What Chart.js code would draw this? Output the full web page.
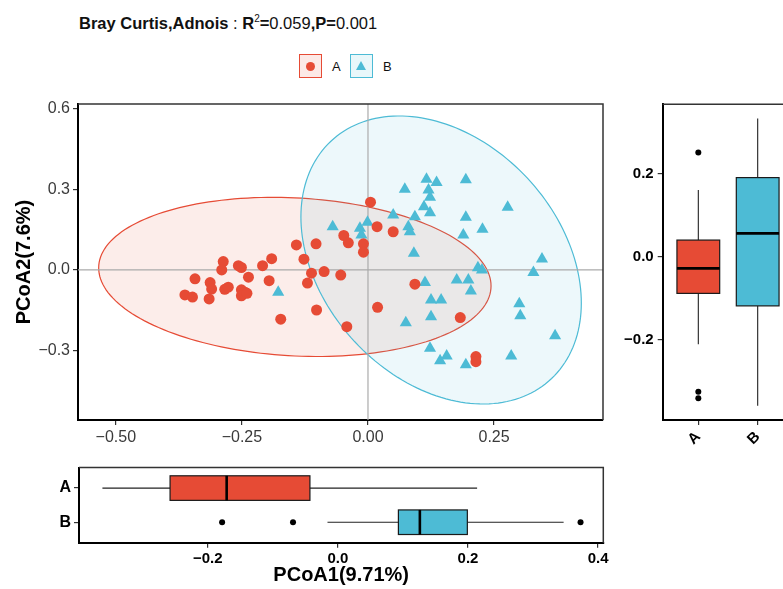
<!DOCTYPE html>
<html>
<head>
<meta charset="utf-8">
<script src="https://cdn.jsdelivr.net/npm/chart.js@4.4.1/dist/chart.umd.min.js"></script>
<style>
  html, body { margin: 0; padding: 0; background: #fff; width: 783px; height: 589px; overflow: hidden; }
  body { position: relative; font-family: 'Liberation Sans', Arial, Helvetica, sans-serif; color: #111; }
  .title { position: absolute; left: 79px; top: 15px; font-size: 16.5px; line-height: 16.5px; white-space: nowrap; }
  .title sup { font-size: 10px; line-height: 0; vertical-align: 7px; }
  .lg-box { position: absolute; top: 54px; width: 21px; height: 22px; border: 1.2px solid; }
  .lg-a { left: 299px; border-color: #E64B35; background: rgba(230, 75, 53, 0.12); }
  .lg-b { left: 350px; border-color: #4DBBD5; background: rgba(77, 187, 213, 0.12); }
  .dot { position: absolute; left: 6px; top: 6.5px; width: 9px; height: 9px; border-radius: 50%; background: #E64B35; }
  .tri { position: absolute; left: 5px; top: 6px; width: 0; height: 0; border-left: 5.5px solid transparent; border-right: 5.5px solid transparent; border-bottom: 9.5px solid #4DBBD5; }
  .lg-text { position: absolute; top: 60px; font-size: 13px; line-height: 13px; color: #111; }
  .panel { position: absolute; }
</style>
</head>
<body>
<div class="title"><b>Bray Curtis,Adnois</b> : <b>R</b><sup>2</sup><b>=</b>0.059<b>,P=</b>0.001</div>
<div class="lg-box lg-a"><div class="dot"></div></div>
<div class="lg-text" style="left:332px">A</div>
<div class="lg-box lg-b"><div class="tri"></div></div>
<div class="lg-text" style="left:383px">B</div>

<div class="panel" style="left:0px; top:90px;"><canvas id="pcoa" width="620" height="360"></canvas></div>
<div class="panel" style="left:600px; top:90px;"><canvas id="boxPc2" width="200" height="370"></canvas></div>
<div class="panel" style="left:0px; top:455px;"><canvas id="boxPc1" width="620" height="134"></canvas></div>

<script>
Chart.defaults.font.family = "'Liberation Sans', Arial, Helvetica, sans-serif";
Chart.defaults.color = '#000';

// --- data ---
const groups = ['A', 'B'];

// PCoA scores, group A (circles)
const groupA_x = [-0.142, -0.103, -0.287, -0.290, -0.257, -0.251, -0.209, -0.191, -0.127, -0.112,
  -0.343, -0.313, -0.237, -0.196, -0.120, -0.363, -0.348, -0.315, -0.310, -0.284,
  -0.277, -0.251, -0.244, -0.251, -0.240, -0.173, -0.102, 0.005, 0.018, 0.050,
  -0.048, -0.039, -0.009, -0.009, -0.087, -0.054, 0.093, 0.019, -0.042, 0.183,
  0.214, 0.214];
const groupA_y = [0.093, 0.097, 0.031, 0.000, 0.016, 0.009, 0.016, 0.042, 0.040, -0.012,
  -0.033, -0.047, -0.027, -0.040, -0.049, -0.093, -0.101, -0.108, -0.071, -0.072,
  -0.064, -0.074, -0.083, -0.096, -0.087, -0.183, -0.149, 0.252, 0.161, 0.142,
  0.128, 0.101, 0.097, 0.066, -0.006, -0.019, -0.053, -0.139, -0.211, -0.177,
  -0.322, -0.341];

// PCoA scores, group B (triangles)
const groupB_x = [0.116, 0.136, 0.194, 0.073, 0.120, 0.123, 0.111, 0.123, 0.277, 0.050,
  0.093, 0.194, -0.070, -0.001, -0.016, -0.013, 0.080, 0.083, 0.189, 0.227,
  0.091, 0.345, 0.226, 0.218, 0.328, 0.113, 0.176, 0.199, 0.204, 0.125,
  0.145, 0.300, 0.125, 0.075, 0.302, 0.371, 0.123, 0.156, 0.143, 0.194,
  0.284, -0.178];
const groupB_y = [0.337, 0.325, 0.335, 0.300, 0.297, 0.270, 0.235, 0.213, 0.233, 0.204,
  0.198, 0.196, 0.161, 0.177, 0.155, 0.130, 0.161, 0.142, 0.130, 0.151,
  0.062, 0.041, 0.000, 0.008, -0.010, -0.047, -0.037, -0.037, -0.078, -0.112,
  -0.112, -0.126, -0.174, -0.196, -0.170, -0.245, -0.291, -0.320, -0.338, -0.353,
  -0.320, -0.083];

// confidence ellipses: centre and two conjugate half-axes, in data units
const ellipseCenterA = [-0.145, -0.026];
const ellipseUA = [0.389, -0.0335];
const ellipseVA = [0, 0.294];
const ellipseCenterB = [0.145, 0.037];
const ellipseUB = [0.278, -0.160];
const ellipseVB = [0, 0.511];

// box plot of PCoA2 (right)
const pc2Min = [-0.210, -0.358];
const pc2Q1 = [-0.088, -0.118];
const pc2Median = [-0.028, 0.056];
const pc2Q3 = [0.040, 0.190];
const pc2Max = [0.160, 0.332];
const pc2OutlierGroup = [1, 1, 1];
const pc2OutlierValue = [0.250, -0.324, -0.340];

// box plot of PCoA1 (bottom)
const pc1Min = [-0.362, -0.016];
const pc1Q1 = [-0.258, 0.093];
const pc1Median = [-0.171, 0.126];
const pc1Q3 = [-0.043, 0.199];
const pc1Max = [0.214, 0.347];
const pc1OutlierGroup = [2, 2, 2];
const pc1OutlierValue = [-0.178, -0.069, 0.373];

// tick values and labels
const mainXTicks = [-0.5, -0.25, 0, 0.25];
const mainXTickLabels = ['\u22120.50', '\u22120.25', '0.00', '0.25'];
const mainYTicks = [-0.3, 0, 0.3, 0.6];
const mainYTickLabels = ['\u22120.3', '0.0', '0.3', '0.6'];
const pc2Ticks = [-0.2, 0, 0.2];
const pc2TickLabels = ['\u22120.2', '0.0', '0.2'];
const pc1Ticks = [-0.2, 0, 0.2, 0.4];
const pc1TickLabels = ['\u22120.2', '0.0', '0.2', '0.4'];
const groupTicks = [1, 2];

// --- styles ---
const RED = '#E64B35';
const TEAL = '#4DBBD5';
const boxHalf = 0.36;

function fixedTicks(values) {
  return function (scale) { scale.ticks = values.map(v => ({ value: v })); };
}

const ellipsePlugin = {
  id: 'ellipses',
  beforeDatasetsDraw(chart) {
    const { ctx, chartArea: a, scales: { x, y } } = chart;
    const shapes = [
      { c: ellipseCenterA, u: ellipseUA, v: ellipseVA, fill: 'rgba(230,75,53,0.1)', stroke: RED },
      { c: ellipseCenterB, u: ellipseUB, v: ellipseVB, fill: 'rgba(77,187,213,0.1)', stroke: TEAL }
    ];
    ctx.save();
    ctx.beginPath();
    ctx.rect(a.left, a.top, a.right - a.left, a.bottom - a.top);
    ctx.clip();
    shapes.forEach(e => {
      ctx.beginPath();
      for (let k = 0; k <= 180; k++) {
        const t = k / 180 * Math.PI * 2;
        const px = x.getPixelForValue(e.c[0] + e.u[0] * Math.cos(t) + e.v[0] * Math.sin(t));
        const py = y.getPixelForValue(e.c[1] + e.u[1] * Math.cos(t) + e.v[1] * Math.sin(t));
        if (k === 0) ctx.moveTo(px, py); else ctx.lineTo(px, py);
      }
      ctx.closePath();
      ctx.fillStyle = e.fill;
      ctx.fill();
      ctx.strokeStyle = e.stroke;
      ctx.lineWidth = 1.2;
      ctx.stroke();
    });
    // zero lines
    ctx.strokeStyle = '#ababab';
    ctx.lineWidth = 1.2;
    ctx.beginPath();
    const x0 = x.getPixelForValue(0), y0 = y.getPixelForValue(0);
    ctx.moveTo(x0, a.top); ctx.lineTo(x0, a.bottom);
    ctx.moveTo(a.left, y0); ctx.lineTo(a.right, y0);
    ctx.stroke();
    ctx.restore();
  }
};

const framePlugin = {
  id: 'frame',
  afterDatasetsDraw(chart) {
    const { ctx, chartArea: a } = chart;
    ctx.save();
    ctx.strokeStyle = '#333';
    ctx.lineWidth = 1.5;
    ctx.beginPath();
    ctx.moveTo(a.left, a.top);
    ctx.lineTo(a.right, a.top);
    ctx.lineTo(a.right, a.bottom);
    ctx.stroke();
    ctx.restore();
  }
};

const boxPlugin = {
  id: 'boxes',
  beforeDatasetsDraw(chart, args, opts) {
    const { ctx } = chart;
    const hor = opts.horizontal;
    const val = chart.scales[hor ? 'x' : 'y'];
    const cat = chart.scales[hor ? 'y' : 'x'];
    const s = opts.stats;
    const fills = [RED, TEAL];
    ctx.save();
    s.q1.forEach((q1, i) => {
      const c = cat.getPixelForValue(i + 1);
      const h = Math.abs(cat.getPixelForValue(i + 1 + boxHalf) - c);
      const lo = val.getPixelForValue(s.min[i]);
      const b1 = val.getPixelForValue(q1);
      const md = val.getPixelForValue(s.median[i]);
      const b3 = val.getPixelForValue(s.q3[i]);
      const hi = val.getPixelForValue(s.max[i]);
      const seg = (p1, p2, w) => {
        ctx.lineWidth = w;
        ctx.beginPath();
        if (hor) { ctx.moveTo(p1, c); ctx.lineTo(p2, c); }
        else { ctx.moveTo(c, p1); ctx.lineTo(c, p2); }
        ctx.stroke();
      };
      ctx.strokeStyle = '#222';
      seg(lo, b1, 1.1);
      seg(b3, hi, 1.1);
      ctx.fillStyle = fills[i];
      ctx.strokeStyle = '#1a1a1a';
      ctx.lineWidth = 1.2;
      if (hor) {
        ctx.fillRect(b1, c - h, b3 - b1, 2 * h);
        ctx.strokeRect(b1, c - h, b3 - b1, 2 * h);
      } else {
        ctx.fillRect(c - h, b3, 2 * h, b1 - b3);
        ctx.strokeRect(c - h, b3, 2 * h, b1 - b3);
      }
      ctx.strokeStyle = '#000';
      ctx.lineWidth = 2.6;
      ctx.beginPath();
      if (hor) { ctx.moveTo(md, c - h); ctx.lineTo(md, c + h); }
      else { ctx.moveTo(c - h, md); ctx.lineTo(c + h, md); }
      ctx.stroke();
    });
    ctx.restore();
  }
};

const tickGrid = { drawOnChartArea: false, tickLength: 5, color: '#333', lineWidth: 1.2 };
const axisBorder = { display: true, color: '#000', width: 2 };

// main PCoA scatter
new Chart(document.getElementById('pcoa'), {
  type: 'scatter',
  data: {
    datasets: [
      {
        label: groups[0],
        data: groupA_x.map((x, i) => ({ x: x, y: groupA_y[i] })),
        pointStyle: 'circle', pointRadius: 5.5, backgroundColor: RED, borderWidth: 0
      },
      {
        label: groups[1],
        data: groupB_x.map((x, i) => ({ x: x, y: groupB_y[i] })),
        pointStyle: 'triangle', pointRadius: 7, backgroundColor: TEAL, borderWidth: 0
      }
    ]
  },
  options: {
    responsive: false, animation: false, devicePixelRatio: 1,
    layout: { padding: { left: 0, top: 14, right: 17, bottom: 0 } },
    plugins: { legend: { display: false }, tooltip: { enabled: false } },
    scales: {
      x: {
        type: 'linear', min: -0.575, max: 0.466,
        afterBuildTicks: fixedTicks(mainXTicks),
        afterFit: s => { s.height = 30; },
        grid: tickGrid, border: axisBorder,
        ticks: { callback: (v, i) => mainXTickLabels[i], color: '#3a3a3a', font: { size: 16 }, padding: 3, maxRotation: 0, autoSkip: false }
      },
      y: {
        type: 'linear', min: -0.558, max: 0.617,
        afterBuildTicks: fixedTicks(mainYTicks),
        afterFit: s => { s.width = 78; },
        grid: tickGrid, border: axisBorder,
        title: { display: true, text: 'PCoA2(7.6%)', color: '#000', font: { size: 20, weight: 'bold' }, padding: { top: 12, bottom: 0 } },
        ticks: { callback: (v, i) => mainYTickLabels[i], color: '#3a3a3a', font: { size: 16 }, padding: 3, autoSkip: false }
      }
    }
  },
  plugins: [ellipsePlugin, framePlugin]
});

// right box plot (PCoA2 by group)
new Chart(document.getElementById('boxPc2'), {
  type: 'scatter',
  data: {
    datasets: [{
      label: 'outliers',
      data: pc2OutlierGroup.map((g, i) => ({ x: g, y: pc2OutlierValue[i] })),
      pointRadius: 3, backgroundColor: '#000', borderWidth: 0
    }]
  },
  options: {
    responsive: false, animation: false, devicePixelRatio: 1,
    layout: { padding: { left: 0, top: 14.3, right: 6.7, bottom: 0 } },
    plugins: {
      legend: { display: false }, tooltip: { enabled: false },
      boxes: { horizontal: false, stats: { min: pc2Min, q1: pc2Q1, median: pc2Median, q3: pc2Q3, max: pc2Max } }
    },
    scales: {
      x: {
        type: 'linear', min: 0.4, max: 2.6,
        afterBuildTicks: fixedTicks(groupTicks),
        afterFit: s => { s.height = 40; },
        grid: tickGrid, border: axisBorder,
        ticks: { callback: (v, i) => groups[i], font: { size: 15, weight: 'bold' }, padding: 3, minRotation: 45, maxRotation: 45, autoSkip: false }
      },
      y: {
        type: 'linear', min: -0.392, max: 0.366,
        afterBuildTicks: fixedTicks(pc2Ticks),
        afterFit: s => { s.width = 62.7; },
        grid: tickGrid, border: axisBorder,
        ticks: { callback: (v, i) => pc2TickLabels[i], font: { size: 15, weight: 'bold' }, padding: 4, autoSkip: false }
      }
    }
  },
  plugins: [boxPlugin, framePlugin]
});

// bottom box plot (PCoA1 by group)
new Chart(document.getElementById('boxPc1'), {
  type: 'scatter',
  data: {
    datasets: [{
      label: 'outliers',
      data: pc1OutlierGroup.map((g, i) => ({ x: pc1OutlierValue[i], y: g })),
      pointRadius: 3, backgroundColor: '#000', borderWidth: 0
    }]
  },
  options: {
    responsive: false, animation: false, devicePixelRatio: 1,
    layout: { padding: { left: 0, top: 9.3, right: 16.7, bottom: 0 } },
    plugins: {
      legend: { display: false }, tooltip: { enabled: false },
      boxes: { horizontal: true, stats: { min: pc1Min, q1: pc1Q1, median: pc1Median, q3: pc1Q3, max: pc1Max } }
    },
    scales: {
      x: {
        type: 'linear', min: -0.398, max: 0.408,
        afterBuildTicks: fixedTicks(pc1Ticks),
        afterFit: s => { s.height = 46.3; },
        grid: tickGrid, border: axisBorder,
        title: { display: true, text: 'PCoA1(9.71%)', color: '#000', font: { size: 20, weight: 'bold' }, padding: { top: 0, bottom: 1.5 } },
        ticks: { callback: (v, i) => pc1TickLabels[i], font: { size: 15, weight: 'bold' }, padding: 2, maxRotation: 0, autoSkip: false }
      },
      y: {
        type: 'linear', min: 0.4, max: 2.6, reverse: true,
        afterBuildTicks: fixedTicks(groupTicks),
        afterFit: s => { s.width = 79; },
        grid: tickGrid, border: axisBorder,
        ticks: { callback: (v, i) => groups[i], font: { size: 16, weight: 'bold' }, padding: 3, autoSkip: false }
      }
    }
  },
  plugins: [boxPlugin, framePlugin]
});
</script>
</body>
</html>
